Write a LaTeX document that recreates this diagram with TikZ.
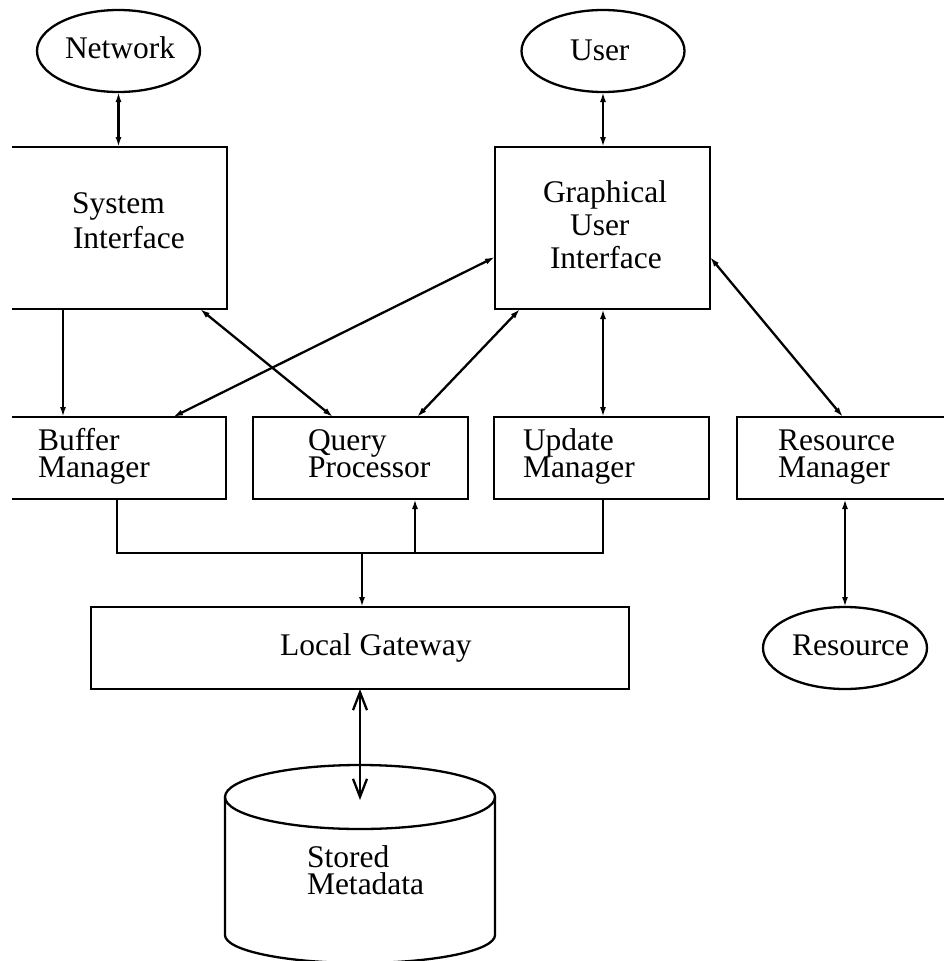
\documentclass[tikz,border=0pt]{standalone}
\usepackage{fontspec}
\setmainfont{Liberation Serif}
\usetikzlibrary{arrows.meta,shapes.geometric}
\begin{document}
\begin{tikzpicture}[x=1pt,y=-1pt,
  line width=2.3pt,
  every node/.style={inner sep=0pt, outer sep=0pt},
  frame/.style={draw, rectangle},
  bare/.style={rectangle},
  oval/.style={draw, ellipse, minimum width=163pt, minimum height=82pt},
  txt/.style={anchor=base west, font=\fontsize{31.5}{35}\selectfont},
  dbl/.style={{Latex[length=10pt,width=6pt]}-{Latex[length=10pt,width=6pt]}},
  one/.style={-{Latex[length=10pt,width=6pt]}},
  wide/.style={{Straight Barb[length=18pt,width=14pt]}-{Straight Barb[length=18pt,width=14pt]}}]
\useasboundingbox (0,0) rectangle (944,961);

% ovals
\node[oval] (net) at (118.5,51) {};
\node[oval] (usr) at (603,51) {};
\node[oval, minimum width=164pt] (res) at (845,648) {};

% boxes
\node[bare, minimum width=215pt, minimum height=162pt] (si) at (119.5,228) {};
\node[frame, minimum width=215pt, minimum height=162pt] (gui) at (602.5,228) {};
\node[bare, minimum width=214pt, minimum height=82pt] (buf) at (119,458) {};
\node[frame, minimum width=215pt, minimum height=82pt] (qp) at (360.5,458) {};
\node[frame, minimum width=215pt, minimum height=82pt] (upd) at (601.5,458) {};
\node[bare, minimum width=207pt, minimum height=82pt] (rm) at (840.5,458) {};
\node[frame, minimum width=538pt, minimum height=82pt] (lg) at (360,648) {};
\node[bare, minimum width=270pt, minimum height=163pt] (db) at (360,881.5) {};

% boxes whose outer side is cut off
\draw (si.north west) -- (si.north east) -- (si.south east) -- (si.south west);
\draw (buf.north west) -- (buf.north east) -- (buf.south east) -- (buf.south west);
\draw (rm.north east) -- (rm.north west) -- (rm.south west) -- (rm.south east);

% cylinder
\draw (360,797) ellipse [x radius=135pt, y radius=32pt];
\draw (225,797) -- (225,935) .. controls (225,950.5) and (285.5,963) .. (360,963)
  .. controls (434.5,963) and (495,950.5) .. (495,935) -- (495,797);

% texts
\node[txt] (tnet) at (65,58) {Network};
\node[txt] (tusr) at (570,60) {User};
\node[txt] (tres) at (792,655) {Resource};
\node[txt] (tsi1) at (72,213) {System};
\node[txt] (tsi2) at (73,248) {Interface};
\node[txt] (tgu1) at (543,202) {Graphical};
\node[txt] (tgu2) at (570,235) {User};
\node[txt] (tgu3) at (550,268) {Interface};
\node[txt] (tbu1) at (38,450) {Buffer};
\node[txt] (tbu2) at (38,477) {Manager};
\node[txt] (tqp1) at (308,450) {Query};
\node[txt] (tqp2) at (308,477) {Processor};
\node[txt] (tup1) at (523,450) {Update};
\node[txt] (tup2) at (523,477) {Manager};
\node[txt] (trm1) at (778,450) {Resource};
\node[txt] (trm2) at (778,477) {Manager};
\node[txt] (tlg) at (280,655) {Local Gateway};
\node[txt] (tdb1) at (307,867) {Stored};
\node[txt] (tdb2) at (307,894) {Metadata};

% connectors
\draw[dbl] (net.south) -- (si.north -| net.south);
\draw[dbl] (usr.south) -- (gui.north -| usr.south);
\draw[one] (si.south -| 63,0) -- (buf.north -| 63,0);
\draw[dbl] (si.south -| 200,0) -- (qp.north -| 333,0);
\draw[dbl] (gui.west |- 0,257) -- (buf.north -| 173,0);
\draw[dbl] (gui.south -| 520,0) -- (qp.north -| 417,0);
\draw[dbl] (gui.south -| 603,0) -- (upd.north -| 603,0);
\draw[dbl] (gui.east |- 0,257) -- (rm.north -| 843,0);
\draw[dbl] (rm.south -| res.north) -- (res.north);

% bus
\coordinate (busL) at (117,553);
\coordinate (busR) at (603,553);
\coordinate (busQ) at (415,553);
\coordinate (busG) at (362,553);
\draw (buf.south -| busL) -- (busL) -- (busR) -- (upd.south -| busR);
\draw[one] (busQ) -- (qp.south -| busQ);
\draw[one] (busG) -- (lg.north -| busG);

\draw[wide] (lg.south -| 360,0) -- (db.north);
\end{tikzpicture}
\end{document}
